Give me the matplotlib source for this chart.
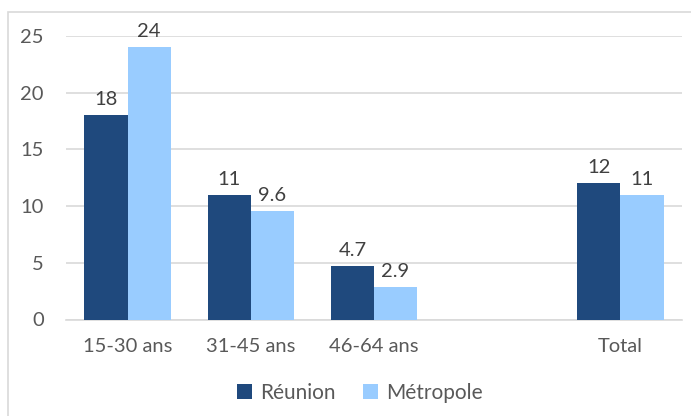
import matplotlib
matplotlib.use("Agg")
import matplotlib.pyplot as plt
import numpy as np
from matplotlib.patches import Rectangle

categories = ["15-30 ans", "31-45 ans", "46-64 ans", "", "Total"]
reunion    = [18, 11, 4.7, np.nan, 12]
metropole  = [24, 9.6, 2.9, np.nan, 11]
labels_reu = ["18", "11", "4.7", "", "12"]
labels_met = ["24", "9.6", "2.9", "", "11"]
yticks     = [0, 5, 10, 15, 20, 25]

DARK, LIGHT, TXT = "#1F497D", "#99CCFF", "#595959"
plt.rcParams['font.family'] = ['Lato', 'DejaVu Sans']

fig = plt.figure(figsize=(6.91, 4.16), dpi=100)
fig.patches.append(Rectangle((8/691, -0.1), 1.2, 1 - 12.5/416 + 0.1, transform=fig.transFigure,
                             fill=False, edgecolor="#D9D9D9", linewidth=1.2))
ax = fig.add_axes([66/691, 1 - 319.5/416, (682 - 66)/691, (319.5 - 36)/416])

x = np.arange(len(categories))
w = 0.35
b1 = ax.bar(x - w/2, reunion, w, color=DARK, label="Réunion", zorder=3)
b2 = ax.bar(x + w/2, metropole, w, color=LIGHT, label="Métropole", zorder=3)
for bars, labs in ((b1, labels_reu), (b2, labels_met)):
    for r, t in zip(bars, labs):
        if t:
            ax.annotate(t, (r.get_x() + r.get_width()/2, r.get_height()), xytext=(0, 5),
                        textcoords="offset points", ha="center", va="bottom",
                        fontsize=14.5, color="#404040")

ax.set_xlim(-0.5, 4.5)
ax.set_ylim(0, 25)
ax.set_yticks(yticks)
ax.set_xticks([0, 1, 2, 4])
ax.set_xticklabels([categories[i] for i in (0, 1, 2, 4)])
ax.tick_params(axis="y", length=0, pad=16, labelsize=14.5, labelcolor=TXT)
ax.tick_params(axis="x", length=0, pad=13, labelsize=14.5, labelcolor=TXT)
ax.grid(axis="y", color="#D9D9D9", linewidth=1.2, zorder=0)
for s in ("top", "right", "left"):
    ax.spines[s].set_visible(False)
ax.spines["bottom"].set_color("#D9D9D9")
ax.spines["bottom"].set_linewidth(1.2)

leg = fig.legend(loc="center", bbox_to_anchor=(360/691, 1 - 393/416), ncol=2, frameon=False,
                 fontsize=15, handlelength=0.7, handleheight=0.7, handletextpad=0.4,
                 columnspacing=1.3)
for t in leg.get_texts():
    t.set_color(TXT)

fig.savefig("out.png", dpi=100)
